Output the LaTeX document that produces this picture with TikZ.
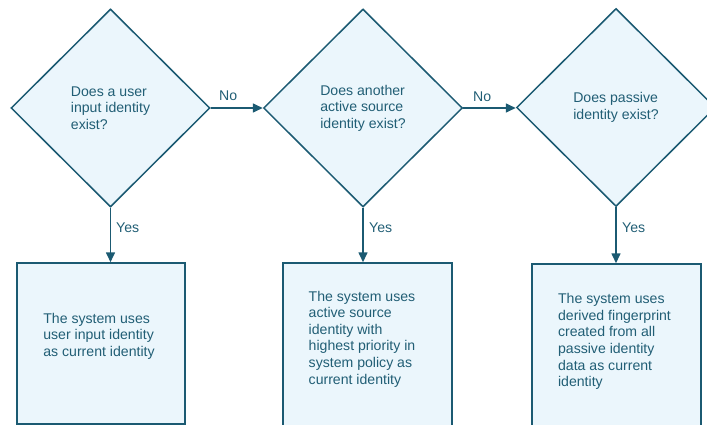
\documentclass[tikz,border=0pt]{standalone}
\usepackage{fontspec}
\setmainfont{Liberation Sans}
\usetikzlibrary{shapes.geometric,arrows.meta}
\definecolor{edgec}{HTML}{1B5A72}
\definecolor{ink}{HTML}{215E75}
\definecolor{pale}{HTML}{EBF6FC}
\tikzset{
  txt/.style={font=\fontsize{14.1}{16.6}\selectfont, text=ink, inner sep=0pt},
  decision/.style={diamond, draw=edgec, fill=pale, line width=1.5pt, minimum width=199pt, minimum height=198pt, inner sep=0pt, align=left, txt},
  outcome/.style={rectangle, draw=edgec, fill=pale, line width=1.5pt, inner sep=0pt},
  flow/.style={draw=edgec, line width=1.6pt, -{Triangle[length=10pt,width=9pt]}},
  lbl/.style={txt, anchor=west}
}
\begin{document}
\begin{tikzpicture}[x=1pt,y=-1pt]
\useasboundingbox (0,0) rectangle (707,425);
\clip (0,0) rectangle (707,425);
\node[decision] (d1) at (110.5,108) {Does a user\\input identity\\exist?};
\node[decision] (d2) at (363,108) {Does another\\active source\\identity exist?};
\node[decision] (d3) at (616,107.5) {Does passive\\identity exist?};

\node[outcome, minimum width=168pt, minimum height=161pt] (b1) at (101,343.5) {};
\node[outcome, minimum width=169pt, minimum height=170pt] (b2) at (367.5,348) {};
\node[outcome, minimum width=169pt, minimum height=170pt] (b3) at (616.5,349) {};

\node[txt, align=left] (t1) at (99,336) {The system uses\\user input identity\\as current identity};
\node[txt, align=left] (t2) at (362,339) {The system uses\\active source\\identity with\\highest priority in\\system policy as\\current identity};
\node[txt, align=left] (t3) at (614.5,341.5) {The system uses\\derived fingerprint\\created from all\\passive identity\\data as current\\identity};

\draw[flow] (d1.east) -- (d2.west);
\draw[flow] (d2.east) -- (d2.east -| d3.west);
\draw[flow] (d1.south) -- (d1.south |- b1.north);
\draw[flow] (d2.south) -- (d2.south |- b2.north);
\draw[flow] (d3.south) -- (d3.south |- b3.north);

\node[lbl] (n1) at (219,96) {No};
\node[lbl] (n2) at (473,97) {No};
\node[lbl] (y1) at (116,228) {Yes};
\node[lbl] (y2) at (369,228) {Yes};
\node[lbl] (y3) at (622,228) {Yes};
\end{tikzpicture}
\end{document}
